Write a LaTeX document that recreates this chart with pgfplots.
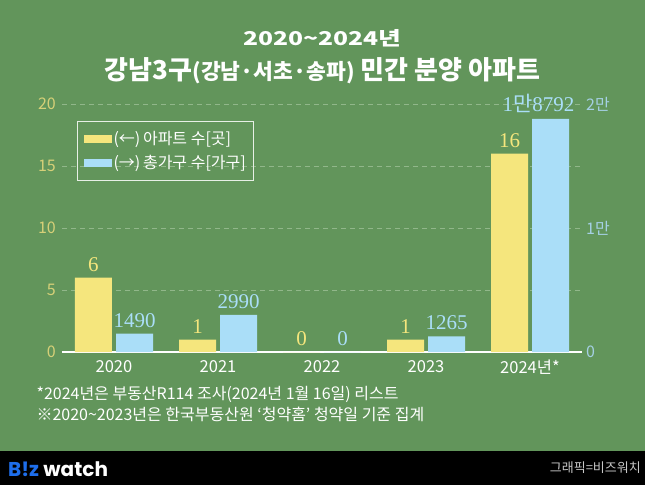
\documentclass[border=0pt]{standalone}
\usepackage{pgfplots}
\pgfplotsset{compat=1.18}
\usepackage{pgfplotstable}
\usepackage{graphicx}
\usepackage{fontspec}
\setmainfont{Noto Sans CJK KR}
\newfontfamily\kr{Noto Sans CJK KR}
\newfontfamily\serifnum{Liberation Serif}
\newfontfamily\logofont{Poppins}
\protected\def\man{{\kr 만}}

\definecolor{bg}{RGB}{98,149,91}
\definecolor{baryellow}{RGB}{245,230,125}
\definecolor{barblue}{RGB}{170,222,248}
\definecolor{gridgreen}{RGB}{145,183,138}
\definecolor{ticky}{RGB}{214,208,120}
\definecolor{tickb}{RGB}{165,208,228}
\definecolor{logoblue}{RGB}{30,110,235}

% apartments (left axis)
\pgfplotstableread{
x y lab
0 6 6
1 1 1
2 0 0
3 1 1
4 16 16
}\apts
% households (right axis), dx nudges a label sideways
\pgfplotstableread{
x y lab dx
0 1490 1490 0
1 2990 2990 0
2 0 0 0
3 1265 1265 0
4 18792 1\man8792 -12
}\homes

\begin{document}
\begin{tikzpicture}
\fill[bg] (0,0) rectangle (645pt,485pt);
\fill[black] (0,0) rectangle (645pt,34pt);

\node[white, font=\bfseries\fontsize{19}{19}\selectfont] at (322.5pt,447pt) {\scalebox{1.3}[1]{2020\textasciitilde2024년}};
\node[white, font=\bfseries\fontsize{26}{26}\selectfont] at (322.5pt,414pt) {강남3구{\fontsize{21.5}{21.5}\selectfont(강남·서초·송파)} 민간 분양 아파트};

\begin{axis}[
  at={(62pt,133pt)}, anchor=south west,
  scale only axis, width=520pt, height=248pt,
  xmin=-0.5, xmax=4.5, ymin=0, ymax=20,
  axis x line*=bottom, axis y line*=left,
  axis line style={-},
  x axis line style={white, line width=1.2pt},
  y axis line style={draw=none},
  xtick={0,1,2,3,4}, xticklabels={2020,2021,2022,2023,2024년*},
  ytick={0,5,10,15,20},
  major tick length=0pt,
  ymajorgrids,
  grid style={gridgreen, line width=0.8pt, dash pattern=on 5pt off 4pt},
  /pgf/number format/assume math mode=true,
  xticklabel style={font=\fontsize{16.5}{16.5}\selectfont, text=white, inner sep=0pt, yshift=-8pt},
  yticklabel style={font=\fontsize{16}{16}\selectfont, text=ticky, inner sep=0pt, xshift=-6pt},
  ybar, bar width=37pt,
  clip=false,
  nodes near coords,
  point meta=explicit symbolic,
  nodes near coords style={font=\serifnum\fontsize{21}{21}\selectfont, text=baryellow, anchor=south, inner sep=0pt, yshift=6pt},
  legend style={at={(0.029,0.931)}, anchor=north west, fill=none, draw=white!85!bg, line width=1pt,
    text=white, font=\fontsize{16}{16}\selectfont, row sep=5pt, inner xsep=6pt, inner ysep=8pt,
    cells={anchor=west}},
  legend image code/.code={\fill[#1,/tikz/.cd] (0pt,-4pt) rectangle (28pt,4pt);},
]
\addplot[fill=baryellow, draw=none, bar shift=-20.5pt] table[x=x, y=y, meta=lab] {\apts};
\addlegendentry{(←)\,아파트 수[곳]}
\addlegendimage{fill=barblue, draw=none}
\addlegendentry{(→)\,총가구 수[가구]}
\end{axis}

\begin{axis}[
  at={(62pt,133pt)}, anchor=south west,
  scale only axis, width=520pt, height=248pt,
  xmin=-0.5, xmax=4.5, ymin=0, ymax=20000,
  hide x axis,
  axis y line*=right,
  y axis line style={draw=none},
  ytick={0,10000,20000}, yticklabels={0,1만,2만},
  scaled y ticks=false,
  major tick length=0pt,
  yticklabel style={font=\fontsize{16}{16}\selectfont, text=tickb, inner sep=0pt, xshift=4pt},
  ybar, bar width=37pt,
  clip=false,
  nodes near coords,
  point meta=explicit symbolic,
  visualization depends on={\thisrow{dx} \as \dx},
  nodes near coords style={font=\serifnum\fontsize{21}{21}\selectfont, text=barblue, anchor=south, inner sep=0pt, yshift=6pt, xshift=\dx pt},
]
\addplot[fill=barblue, draw=none, bar shift=20.5pt] table[x=x, y=y, meta=lab] {\homes};
\end{axis}

\node[anchor=west, white, font=\fontsize{16}{16}\selectfont] at (33pt,91pt) {*2024년은 부동산R114 조사(2024년 1월 16일) 리스트};
\node[anchor=west, white, font=\fontsize{16}{16}\selectfont] at (33pt,71pt) {※2020\textasciitilde2023년은 한국부동산원 ‘청약홈’ 청약일 기준 집계};

\node[anchor=west, inner sep=0pt, font=\logofont\bfseries\fontsize{20}{20}\selectfont] at (8pt,16pt) {\textcolor{logoblue}{B!z} \textcolor{white}{watch}};
\node[anchor=east, inner sep=0pt, text=white!78!black, font=\fontsize{13}{13}\selectfont] at (641pt,17pt) {그래픽=비즈워치};

\pgfresetboundingbox
\path (0,0) rectangle (645pt,485pt);
\end{tikzpicture}
\end{document}
